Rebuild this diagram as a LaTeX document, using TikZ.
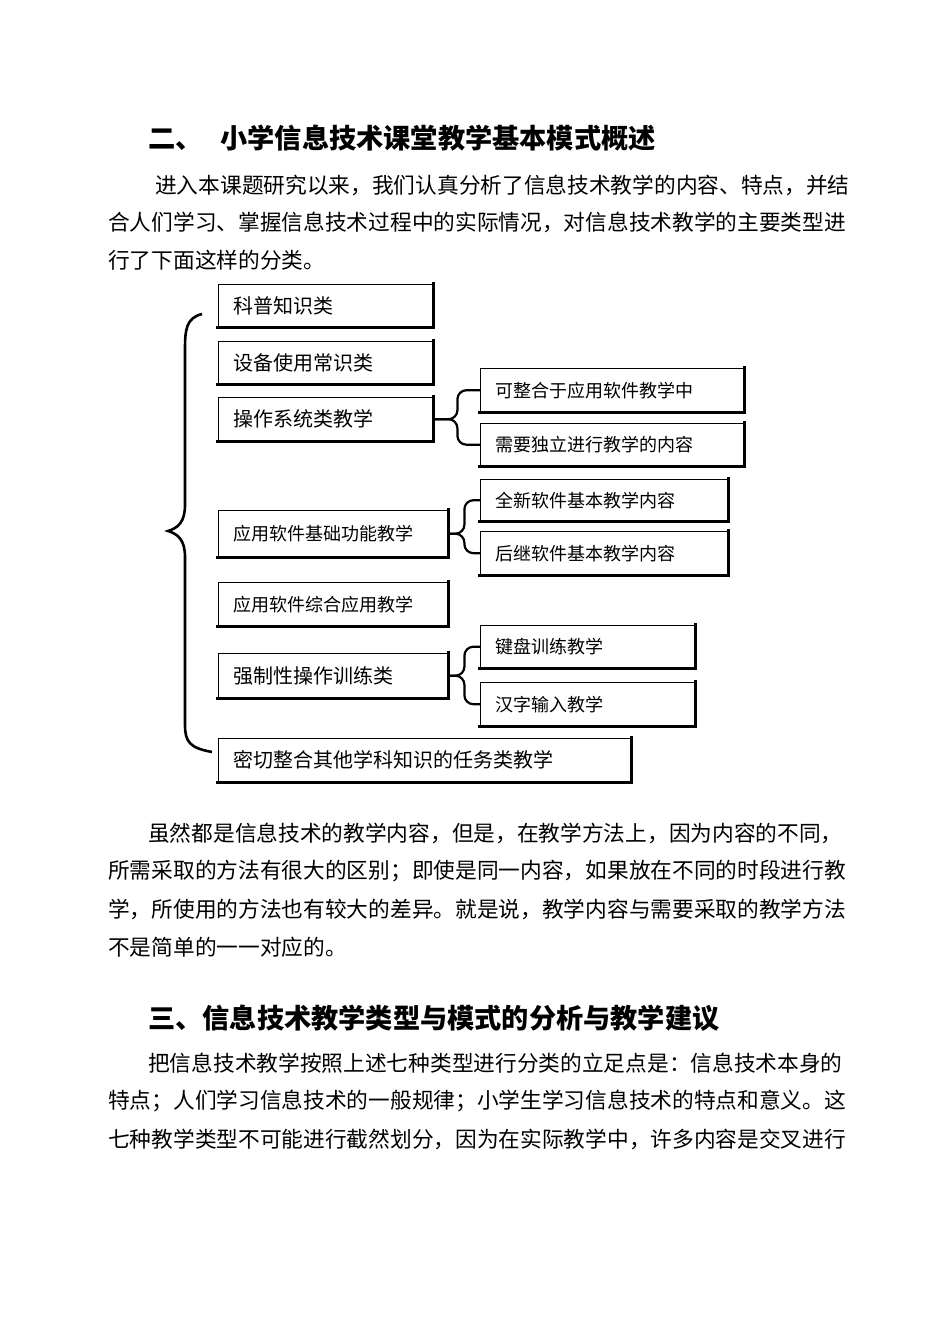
\documentclass[tikz,border=0pt]{standalone}
\usepackage{fontspec}
\setmainfont{Noto Sans CJK SC}
\begin{document}
\begin{tikzpicture}[x=1pt,y=-1pt,
  box/.style={draw,line width=1.4pt,anchor=north west,inner xsep=15pt,inner ysep=0pt,align=left},
  shd/.style={line width=3.2pt,line cap=rect},
  br/.style={line width=2.2pt,rounded corners=9pt},
  txt/.style={anchor=west,inner sep=0pt,font=\fontsize{21.7}{21.7}\selectfont},
  ttl/.style={anchor=west,inner sep=0pt,font=\fontsize{27.2}{27.2}\selectfont\bfseries}]
\useasboundingbox (0,0) rectangle (950,1343);
\fill[white] (0,0) rectangle (950,1343);
% text
\node[ttl] (t1) at (148,138) {二、\hspace{18pt}小学信息技术课堂教学基本模式概述};
\node[txt] (p1) at (155,185) {进入本课题研究以来，我们认真分析了信息技术教学的内容、特点，并结};
\node[txt] (p2) at (108,222) {合人们学习、掌握信息技术过程中的实际情况，对信息技术教学的主要类型进};
\node[txt] (p3) at (108,260) {行了下面这样的分类。};
\node[txt] (q1) at (148,833) {虽然都是信息技术的教学内容，但是，在教学方法上，因为内容的不同，};
\node[txt] (q2) at (108,871) {所需采取的方法有很大的区别；即使是同一内容，如果放在不同的时段进行教};
\node[txt] (q3) at (108,909) {学，所使用的方法也有较大的差异。就是说，教学内容与需要采取的教学方法};
\node[txt] (q4) at (108,947) {不是简单的一一对应的。};
\node[ttl] (t2) at (148,1018) {三、信息技术教学类型与模式的分析与教学建议};
\node[txt] (r1) at (148,1063) {把信息技术教学按照上述七种类型进行分类的立足点是：信息技术本身的};
\node[txt] (r2) at (108,1101) {特点；人们学习信息技术的一般规律；小学生学习信息技术的特点和意义。这};
\node[txt] (r3) at (108,1139) {七种教学类型不可能进行截然划分，因为在实际教学中，许多内容是交叉进行};
% boxes
\node[box,text width=184pt,minimum height=42pt,font=\fontsize{20}{20}\selectfont] (b1) at (218,284) {科普知识类};
\node[box,text width=184pt,minimum height=42pt,font=\fontsize{20}{20}\selectfont] (b2) at (218,341) {设备使用常识类};
\node[box,text width=184pt,minimum height=43pt,font=\fontsize{20}{20}\selectfont] (b3) at (218,397) {操作系统类教学};
\node[box,text width=233pt,minimum height=43pt,font=\fontsize{18}{18}\selectfont] (b4) at (480,368) {可整合于应用软件教学中};
\node[box,text width=233pt,minimum height=42pt,font=\fontsize{18}{18}\selectfont] (b5) at (480,423) {需要独立进行教学的内容};
\node[box,text width=217pt,minimum height=41pt,font=\fontsize{18}{18}\selectfont] (b6) at (480,479) {全新软件基本教学内容};
\node[box,text width=217pt,minimum height=43pt,font=\fontsize{18}{18}\selectfont] (b7) at (480,531) {后继软件基本教学内容};
\node[box,text width=199pt,minimum height=46pt,font=\fontsize{18}{18}\selectfont] (b8) at (218,510) {应用软件基础功能教学};
\node[box,text width=199pt,minimum height=43pt,font=\fontsize{18}{18}\selectfont] (b9) at (218,582) {应用软件综合应用教学};
\node[box,text width=199pt,minimum height=44pt,font=\fontsize{20}{20}\selectfont] (b10) at (218,653) {强制性操作训练类};
\node[box,text width=184pt,minimum height=42pt,font=\fontsize{18}{18}\selectfont] (b11) at (480,625) {键盘训练教学};
\node[box,text width=184pt,minimum height=43pt,font=\fontsize{18}{18}\selectfont] (b12) at (480,682) {汉字输入教学};
\node[box,text width=382pt,minimum height=43pt,font=\fontsize{20}{20}\selectfont] (b13) at (218,738) {密切整合其他学科知识的任务类教学};
\foreach \n in {b1,b2,b3,b4,b5,b6,b7,b8,b9,b10,b11,b12,b13}
  \draw[shd] (\n.north east) -- (\n.south east) -- (\n.south west);
% small braces
\draw[br] (b3.east) -- ++(24,0) |- (b4.west);
\draw[br] (b3.east) -- ++(24,0) |- (b5.west);
\draw[br] (b8.east) -- ++(16,0) |- (b6.west);
\draw[br] (b8.east) -- ++(16,0) |- (b7.west);
\draw[br] (b10.east) -- ++(16,0) |- (b11.west);
\draw[br] (b10.east) -- ++(16,0) |- (b12.west);
% big brace
\draw[line width=2.6pt] (202,314) .. controls (186,318) and (185,330) .. (185,350) -- (185,505)
  .. controls (185,522) and (178,528) .. (168,531)
  .. controls (178,534) and (185,540) .. (185,557) -- (185,725)
  .. controls (185,742) and (190,748) .. (212,752);
\end{tikzpicture}
\end{document}
